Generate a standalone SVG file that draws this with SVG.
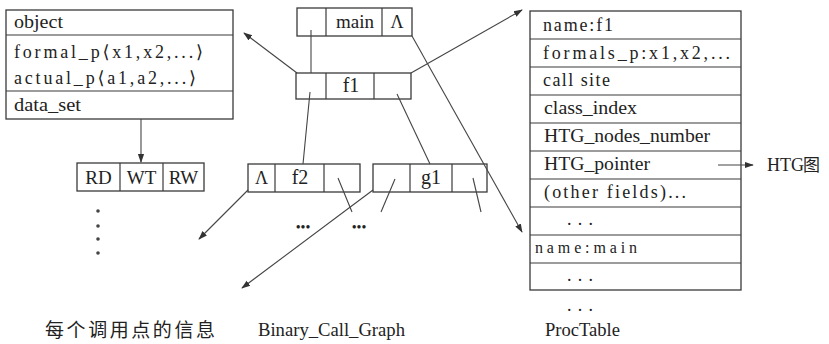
<svg xmlns="http://www.w3.org/2000/svg" width="829" height="344" viewBox="0 0 829 344">
  <style>
    .box { fill: #ffffff; stroke: #3a3a3a; stroke-width: 1.3; }
    .div { stroke: #3a3a3a; stroke-width: 1.2; }
    .t { font-family: 'Liberation Serif', 'DejaVu Serif', serif; fill: #222; }
    .c { text-anchor: middle; }
    .cjk { font-family: 'Noto Sans CJK SC', sans-serif; fill: #222; }
    .con { stroke: #444; stroke-width: 1.1; fill: none; }
    .arr { marker-end: url(#head); }
  </style>
  <defs>
    <marker id="head" viewBox="0 0 10 10" refX="9" refY="5" markerWidth="9" markerHeight="9" markerUnits="userSpaceOnUse" orient="auto">
      <path d="M0,1.5 L10,5 L0,8.5 Z" fill="#333"/>
    </marker>
  </defs>

  <!-- call-site record -->
  <g id="callsite">
    <rect class="box" x="6" y="10" width="227" height="109"/>
    <line class="div" x1="6" y1="35" x2="233" y2="35"/>
    <line class="div" x1="6" y1="91" x2="233" y2="91"/>
    <text class="t" x="14" y="28" font-size="18" textLength="49" lengthAdjust="spacingAndGlyphs">object</text>
    <text class="t" x="14" y="58" font-size="18" textLength="189" lengthAdjust="spacing">formal_p⟨x1,x2,...⟩</text>
    <text class="t" x="14" y="84" font-size="18" textLength="182" lengthAdjust="spacing">actual_p⟨a1,a2,...⟩</text>
    <text class="t" x="14" y="111" font-size="18" textLength="67" lengthAdjust="spacingAndGlyphs">data_set</text>
  </g>

  <!-- RD / WT / RW flags -->
  <g id="flags">
    <rect class="box" x="77" y="163" width="127" height="28"/>
    <line class="div" x1="120" y1="163" x2="120" y2="191"/>
    <line class="div" x1="163" y1="163" x2="163" y2="191"/>
    <text class="t c" x="98.5" y="184" font-size="19">RD</text>
    <text class="t c" x="141.5" y="184" font-size="19">WT</text>
    <text class="t c" x="183.5" y="184" font-size="19">RW</text>
    <circle cx="98" cy="211" r="1.8" fill="#444"/>
    <circle cx="98" cy="226" r="1.8" fill="#444"/>
    <circle cx="98" cy="239" r="1.8" fill="#444"/>
    <circle cx="98" cy="253" r="1.8" fill="#444"/>
  </g>

  <!-- binary call graph nodes -->
  <g id="node-main">
    <rect class="box" x="297" y="8" width="115" height="28"/>
    <line class="div" x1="326" y1="8" x2="326" y2="36"/>
    <line class="div" x1="382" y1="8" x2="382" y2="36"/>
    <text class="t c" x="355" y="28" font-size="19">main</text>
    <text class="t c" x="397" y="28" font-size="18">Λ</text>
  </g>
  <g id="node-f1">
    <rect class="box" x="296" y="73" width="115" height="26"/>
    <line class="div" x1="326" y1="73" x2="326" y2="99"/>
    <line class="div" x1="374" y1="73" x2="374" y2="99"/>
    <text class="t c" x="351" y="92" font-size="20">f1</text>
  </g>
  <g id="node-f2">
    <rect class="box" x="248" y="164" width="112" height="28"/>
    <line class="div" x1="275" y1="164" x2="275" y2="192"/>
    <line class="div" x1="324" y1="164" x2="324" y2="192"/>
    <text class="t c" x="261.5" y="184" font-size="18">Λ</text>
    <text class="t c" x="300" y="184" font-size="20">f2</text>
  </g>
  <g id="node-g1">
    <rect class="box" x="373" y="164" width="114" height="28"/>
    <line class="div" x1="410" y1="164" x2="410" y2="192"/>
    <line class="div" x1="452" y1="164" x2="452" y2="192"/>
    <text class="t c" x="431" y="184" font-size="20">g1</text>
  </g>
  <g id="more-nodes">
    <text class="t c" x="303" y="232" font-size="14">•••</text>
    <text class="t c" x="359" y="232" font-size="14">•••</text>
  </g>

  <!-- procedure table -->
  <g id="proctable">
    <rect class="box" x="530" y="11" width="211" height="279"/>
    <line class="div" x1="530" y1="39" x2="741" y2="39"/>
    <line class="div" x1="530" y1="67" x2="741" y2="67"/>
    <line class="div" x1="530" y1="95" x2="741" y2="95"/>
    <line class="div" x1="530" y1="123" x2="741" y2="123"/>
    <line class="div" x1="530" y1="151" x2="741" y2="151"/>
    <line class="div" x1="530" y1="179" x2="741" y2="179"/>
    <line class="div" x1="530" y1="207" x2="741" y2="207"/>
    <line class="div" x1="530" y1="235" x2="741" y2="235"/>
    <line class="div" x1="530" y1="263" x2="741" y2="263"/>
    <text class="t" x="543" y="31" font-size="18" textLength="70" lengthAdjust="spacing">name:f1</text>
    <text class="t" x="543" y="59" font-size="18" textLength="187" lengthAdjust="spacing">formals_p:x1,x2,...</text>
    <text class="t" x="543" y="86" font-size="18" textLength="67" lengthAdjust="spacing">call site</text>
    <text class="t" x="544" y="114" font-size="18" textLength="93" lengthAdjust="spacingAndGlyphs">class_index</text>
    <text class="t" x="544" y="142" font-size="18" textLength="166" lengthAdjust="spacingAndGlyphs">HTG_nodes_number</text>
    <text class="t" x="544" y="170" font-size="18" textLength="106" lengthAdjust="spacingAndGlyphs">HTG_pointer</text>
    <text class="t" x="544" y="198" font-size="18" textLength="142" lengthAdjust="spacing">(other fields)...</text>
    <text class="t" x="567" y="225" font-size="18" textLength="26" lengthAdjust="spacing">...</text>
    <text class="t" x="535" y="253" font-size="16" textLength="102" lengthAdjust="spacing">name:main</text>
    <text class="t" x="567" y="281" font-size="18" textLength="26" lengthAdjust="spacing">...</text>
    <text class="t" x="567" y="311" font-size="18" textLength="26" lengthAdjust="spacing">...</text>
  </g>

  <g id="htg">
    <text class="t" x="767" y="171" font-size="18">HTG</text>
    <text class="cjk" x="803" y="171" font-size="17">图</text>
  </g>

  <!-- captions -->
  <g id="captions">
    <text class="cjk" x="45" y="337" font-size="19" textLength="170" lengthAdjust="spacing">每个调用点的信息</text>
    <text class="t" x="258" y="336" font-size="18" textLength="147" lengthAdjust="spacingAndGlyphs">Binary_Call_Graph</text>
    <text class="t" x="545" y="336" font-size="18" textLength="75" lengthAdjust="spacingAndGlyphs">ProcTable</text>
  </g>

  <!-- connectors -->
  <g id="connectors">
    <line class="con arr" x1="141" y1="119" x2="141" y2="162"/>
    <line class="con arr" x1="297" y1="73" x2="244" y2="33"/>
    <line class="con" x1="311" y1="30" x2="311" y2="73"/>
    <line class="con arr" x1="411" y1="73" x2="522" y2="10"/>
    <line class="con arr" x1="412" y1="36" x2="522" y2="232"/>
    <line class="con" x1="310" y1="92" x2="303" y2="164"/>
    <line class="con" x1="397" y1="94" x2="430" y2="164"/>
    <line class="con arr" x1="248" y1="190" x2="199" y2="239"/>
    <line class="con arr" x1="373" y1="190" x2="242" y2="288"/>
    <line class="con" x1="338" y1="178" x2="352" y2="212"/>
    <line class="con" x1="395" y1="179" x2="381" y2="212"/>
    <line class="con" x1="473" y1="178" x2="481" y2="212"/>
    <line class="con arr" x1="718" y1="165" x2="753" y2="165"/>
  </g>
</svg>
